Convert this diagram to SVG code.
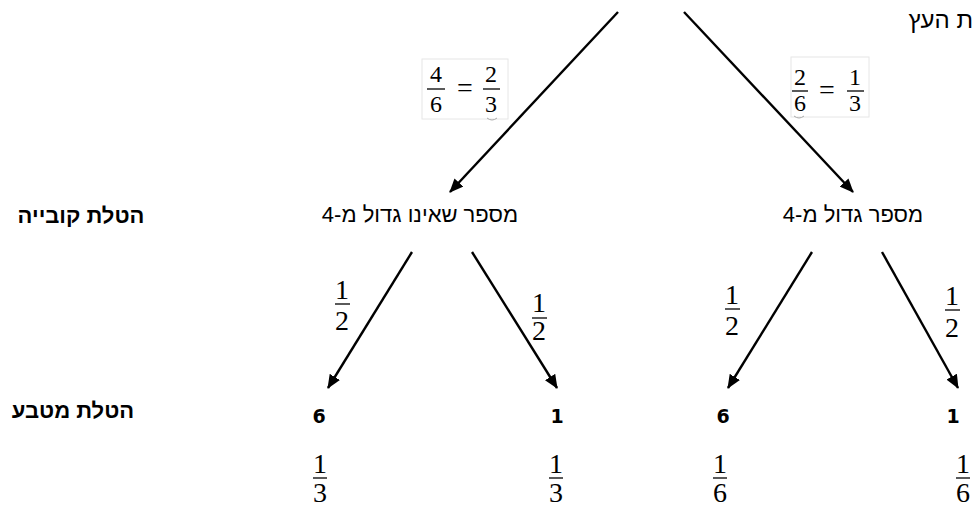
<svg xmlns="http://www.w3.org/2000/svg" width="974" height="509" viewBox="0 0 974 509">
<defs>
<marker id="ah" markerUnits="userSpaceOnUse" markerWidth="14" markerHeight="12" refX="13" refY="6" orient="auto">
<path d="M0,0 L14,6 L0,12 Z" fill="#000"/>
</marker>
<style>
.edge{stroke:#000;stroke-width:2.4;fill:none;marker-end:url(#ah)}
.heb{font-family:"Liberation Sans","DejaVu Sans",sans-serif;font-size:22px;fill:#000}
.hebb{font-family:"Liberation Sans","DejaVu Sans",sans-serif;font-size:22px;font-weight:bold;fill:#000}
.tf{font-family:"Liberation Serif","Times New Roman",serif;font-size:24px;fill:#000;text-anchor:middle}
.cf{font-family:"Liberation Serif","DejaVu Serif",serif;font-size:28px;fill:#000;text-anchor:middle}
.dg{font-family:"DejaVu Sans",sans-serif;font-size:19px;font-weight:bold;fill:#000;text-anchor:middle}
.bar{stroke:#000;stroke-width:1.3}
.box{fill:#fff;stroke:#e6e6e6;stroke-width:1}
</style>
</defs>
<rect width="974" height="509" fill="#fff"/>

<g id="title">
<text class="heb" x="973" y="28" text-anchor="end" style="font-size:24px">ת העץ</text>
</g>

<g id="connectors">
<line class="edge" x1="618" y1="12" x2="450" y2="192"/>
<line class="edge" x1="684" y1="12" x2="853" y2="192"/>
<line class="edge" x1="412" y1="252" x2="328" y2="388"/>
<line class="edge" x1="472" y1="252" x2="557" y2="388"/>
<line class="edge" x1="812" y1="252" x2="728" y2="388"/>
<line class="edge" x1="882" y1="252" x2="958" y2="388"/>
</g>

<g id="prob-left-top">
<rect class="box" x="422" y="59" width="86" height="60"/>
<text class="tf" x="436" y="82">4</text>
<line class="bar" x1="427" y1="89" x2="445" y2="89"/>
<text class="tf" x="436" y="112">6</text>
<text class="tf" x="465" y="97" style="font-size:28px">=</text>
<text class="tf" x="491" y="82">2</text>
<line class="bar" x1="483" y1="89" x2="500" y2="89"/>
<text class="tf" x="491" y="112">3</text>
<path d="M487,118 Q492,122 497,118" stroke="#aaa" stroke-width="1" fill="none"/>
</g>

<g id="prob-right-top">
<rect class="box" x="791" y="57" width="78" height="60"/>
<text class="tf" x="800" y="85">2</text>
<line class="bar" x1="792" y1="91" x2="808" y2="91"/>
<text class="tf" x="800" y="111">6</text>
<text class="tf" x="827" y="99" style="font-size:28px">=</text>
<text class="tf" x="855" y="85">1</text>
<line class="bar" x1="847" y1="91" x2="864" y2="91"/>
<text class="tf" x="855" y="111">3</text>
<path d="M794,116 Q799,120 804,116" stroke="#aaa" stroke-width="1" fill="none"/>
</g>

<g id="label-die">
<text class="hebb" x="81" y="223" text-anchor="middle" direction="rtl">הטלת קובייה</text>
</g>
<g id="label-coin">
<text class="hebb" x="73" y="418" text-anchor="middle" direction="rtl">הטלת מטבע</text>
</g>

<g id="node-not-greater">
<text class="heb" x="420" y="222" text-anchor="middle" direction="rtl">מספר שאינו גדול מ-4</text>
</g>
<g id="node-greater">
<text class="heb" x="853" y="222" text-anchor="middle" direction="rtl">מספר גדול מ-4</text>
</g>

<g id="prob-ll">
<text class="cf" x="342" y="299">1</text>
<line class="bar" x1="335" y1="304" x2="350" y2="304"/>
<text class="cf" x="342" y="330">2</text>
</g>
<g id="prob-lr">
<text class="cf" x="539" y="312">1</text>
<line class="bar" x1="532" y1="318" x2="547" y2="318"/>
<text class="cf" x="539" y="340">2</text>
</g>
<g id="prob-rl">
<text class="cf" x="732" y="304">1</text>
<line class="bar" x1="725" y1="309" x2="740" y2="309"/>
<text class="cf" x="732" y="335">2</text>
</g>
<g id="prob-rr">
<text class="cf" x="952" y="305">1</text>
<line class="bar" x1="945" y1="310" x2="960" y2="310"/>
<text class="cf" x="952" y="337">2</text>
</g>

<g id="leaf-1">
<text class="dg" x="319" y="423">6</text>
<text class="cf" x="320" y="473">1</text>
<line class="bar" x1="313" y1="478" x2="327" y2="478"/>
<text class="cf" x="320" y="502">3</text>
</g>
<g id="leaf-2">
<text class="dg" x="557" y="423">1</text>
<text class="cf" x="556" y="473">1</text>
<line class="bar" x1="549" y1="478" x2="563" y2="478"/>
<text class="cf" x="556" y="502">3</text>
</g>
<g id="leaf-3">
<text class="dg" x="723" y="423">6</text>
<text class="cf" x="720" y="473">1</text>
<line class="bar" x1="713" y1="478" x2="727" y2="478"/>
<text class="cf" x="720" y="502">6</text>
</g>
<g id="leaf-4">
<text class="dg" x="953" y="423">1</text>
<text class="cf" x="963" y="473">1</text>
<line class="bar" x1="956" y1="478" x2="970" y2="478"/>
<text class="cf" x="963" y="502">6</text>
</g>
</svg>
